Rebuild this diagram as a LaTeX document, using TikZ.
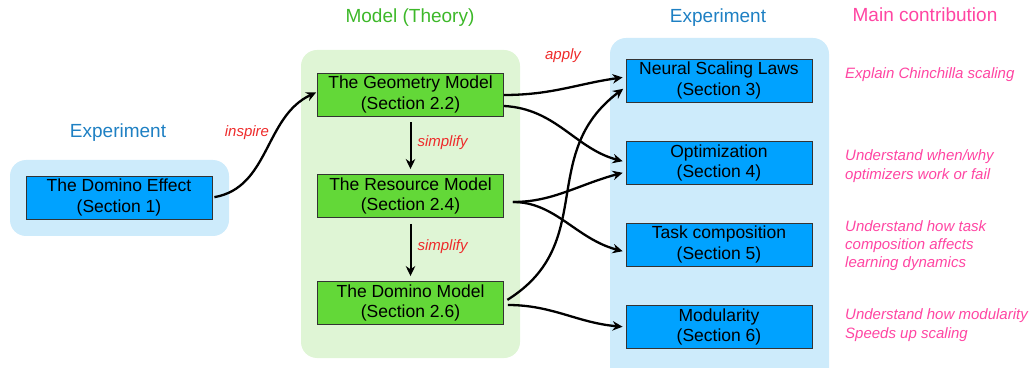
\documentclass[tikz,border=0pt]{standalone}
\usepackage{fontspec}
\setmainfont{Liberation Sans}
\usetikzlibrary{arrows.meta}

\definecolor{bgblue}{HTML}{CDEBFB}
\definecolor{bggreen}{HTML}{DFF5D5}
\definecolor{boxblue}{HTML}{00A2FF}
\definecolor{boxgreen}{HTML}{63D838}
\definecolor{headblue}{HTML}{1E80C3}
\definecolor{headgreen}{HTML}{3DB829}
\definecolor{pinktext}{HTML}{FF45A2}
\definecolor{redtext}{HTML}{EE2B2B}

\tikzset{
	expbox/.style={draw=black!80, line width=0.9pt, fill=boxblue, minimum width=186pt, minimum height=43pt, inner sep=0pt, align=center, font=\fontsize{17.5}{20.5}\selectfont},
	modelbox/.style={expbox, fill=boxgreen},
	heading/.style={font=\fontsize{19}{22}\selectfont},
	edgelabel/.style={text=redtext, font=\fontsize{15}{18}\selectfont\itshape},
	contrib/.style={text=pinktext, anchor=west, align=left, inner sep=0pt, font=\fontsize{15}{18.3}\selectfont\itshape},
	link/.style={line width=2.3pt, shorten >=3pt, -{Stealth[length=10pt,width=9.5pt]}}
}

\begin{document}
\begin{tikzpicture}[x=1pt, y=1pt]
				\useasboundingbox (0,0) rectangle (1030,367);
				% background panels
				\fill[bgblue, rounded corners=16pt] (10,131) rectangle (229,207);
				\fill[bggreen, rounded corners=16pt] (301,9) rectangle (520,317);
				\fill[bgblue, rounded corners=16pt] (610,-20) rectangle (829,329);
				% headings
				\node[heading, text=headblue] (hexpl) at (118,234) {Experiment};
				\node[heading, text=headgreen] (hmodel) at (410,349) {Model (Theory)};
				\node[heading, text=headblue] (hexpr) at (718,349) {Experiment};
				\node[heading, text=pinktext] (hmain) at (925,352) {Main contribution};
				% boxes
				\node[expbox] (effect) at (119,169.5) {The Domino Effect\\(Section 1)};
				\node[modelbox] (geo) at (410.5,272.5) {The Geometry Model\\(Section 2.2)};
				\node[modelbox] (res) at (410.5,171) {The Resource Model\\(Section 2.4)};
				\node[modelbox] (dom) at (410.5,64) {The Domino Model\\(Section 2.6)};
				\node[expbox] (nsl) at (719,286.5) {Neural Scaling Laws\\(Section 3)};
				\node[expbox] (opt) at (719,204) {Optimization\\(Section 4)};
				\node[expbox] (task) at (719,122.5) {Task composition\\(Section 5)};
				\node[expbox] (mod) at (719,40) {Modularity\\(Section 6)};
				% contributions
				\node[contrib] (c3) at (845,292) {Explain Chinchilla scaling};
				\node[contrib] (c4) at (845,201) {Understand when/why\\optimizers work or fail};
				\node[contrib] (c5) at (845,121.5) {Understand how task\\composition affects\\learning dynamics};
				\node[contrib] (c6) at (845,42) {Understand how modularity\\Speeds up scaling};
				% edge labels
				\node[edgelabel] (linspire) at (247,234) {inspire};
				\node[edgelabel] (lapply) at (563,311) {apply};
				\node[edgelabel, anchor=west] (ls1) at (414,224) {simplify};
				\node[edgelabel, anchor=west] (ls2) at (414,120) {simplify};
				% connectors
				\draw[link, shorten <=2pt, shorten >=1pt] (effect.east) to[out=10, in=205] ([yshift=2.5pt]geo.west);
				\draw[link, line width=2pt, shorten <=6pt, shorten >=5pt] (geo.south) -- (res.north);
				\draw[link, line width=2pt, shorten <=6pt, shorten >=5pt] (res.south) -- (dom.north);
				\draw[link] ([yshift=-0.5pt]geo.east) to[out=0, in=188] ([yshift=3.5pt]nsl.west);
				\draw[link] ([yshift=-11.5pt]geo.east) to[out=-3, in=165] ([yshift=1pt]opt.west);
				\draw[link, shorten <=9pt] ([yshift=-6pt]res.east) to[out=0, in=195] ([yshift=-9pt]opt.west);
				\draw[link, shorten <=9pt] ([yshift=-6pt]res.east) to[out=0, in=165] ([yshift=-7.5pt]task.west);
				\draw[link, shorten <=4pt] ([yshift=1pt]dom.east) to[out=32, in=217, looseness=1.15] ([yshift=-6.5pt]nsl.west);
				\draw[link, shorten <=4pt] ([yshift=-2pt]dom.east) to[out=0, in=175] (mod.west);
			\end{tikzpicture}
\end{document}
